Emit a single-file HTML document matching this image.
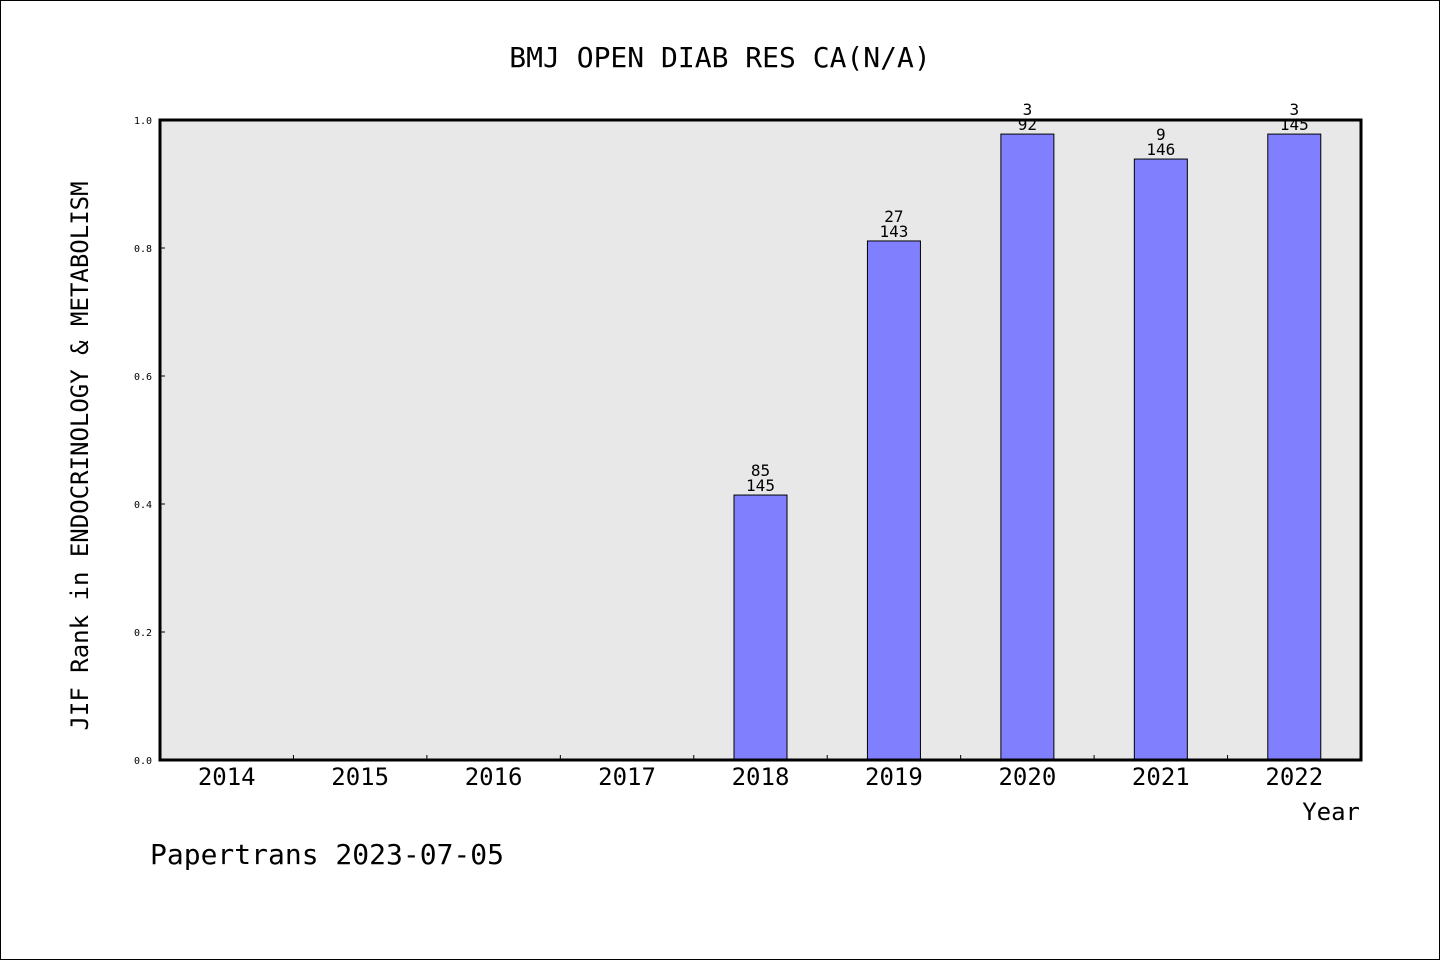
<!DOCTYPE html>
<html><head><meta charset="utf-8">
<style>
html,body{margin:0;padding:0;background:#fff;}
svg{display:block;}
text{font-family:"DejaVu Sans Mono","Liberation Mono",monospace;fill:#000;}
</style></head>
<body>
<svg id="chart" width="1440" height="960" viewBox="0 0 1440 960">
<rect x="0.5" y="0.5" width="1439" height="959" fill="#fff" stroke="#000" stroke-width="1"/>
<text x="720" y="67" font-size="28" text-anchor="middle">BMJ OPEN DIAB RES CA(N/A)</text>
<rect x="160" y="120" width="1201" height="640" fill="#e8e8e8"/>
<g id="bars"></g>
<g id="axes"></g>
<rect x="160" y="120" width="1201" height="640" fill="none" stroke="#000" stroke-width="3"/>
<text transform="translate(88,456) rotate(-90)" font-size="24" text-anchor="middle">JIF Rank in ENDOCRINOLOGY &amp; METABOLISM</text>
<text x="1360" y="820" font-size="24" text-anchor="end">Year</text>
<text x="150" y="864" font-size="28">Papertrans 2023-07-05</text>
</svg>
<script>
const years = ["2014","2015","2016","2017","2018","2019","2020","2021","2022"];
const values = [null,null,null,null,0.414,0.811,0.978,0.939,0.978];
const ranks = [null,null,null,null,"85","27","3","9","3"];
const totals = [null,null,null,null,"145","143","92","146","145"];
const yTicks = [0,0.2,0.4,0.6,0.8,1.0];
const yTickLabels = ["0.0","0.2","0.4","0.6","0.8","1.0"];

const NS="http://www.w3.org/2000/svg";
const X0=160,X1=1361,Y0=760,Y1=120;
const band=(X1-X0)/years.length;
const xc=i=>X0+band*(i+0.5);
const y=v=>Y0-(v-0)/(1-0)*(Y0-Y1);
const barW=53;
function mk(tag,attrs,parent){const e=document.createElementNS(NS,tag);for(const k in attrs)e.setAttribute(k,attrs[k]);parent.appendChild(e);return e;}
const bars=document.getElementById('bars'),axes=document.getElementById('axes');
years.forEach((yr,i)=>{
  if(values[i]!=null){
    const r=mk('rect',{x:xc(i)-barW/2,y:y(values[i]),width:barW,height:Y0-y(values[i]),fill:'#8080ff',stroke:'#000','stroke-width':1},bars);
    
    
    const t1=mk('text',{x:xc(i),y:y(values[i])-19,'font-size':16,'text-anchor':'middle'},bars);
    t1.textContent=ranks[i];
    
    
    const t2=mk('text',{x:xc(i),y:y(values[i])-4,'font-size':16,'text-anchor':'middle'},bars);
    t2.textContent=totals[i];
    
    
  }
  const lb=mk('text',{x:xc(i),y:785,'font-size':24,'text-anchor':'middle'},axes);
  lb.textContent=yr;
  
  
  if(i>0){
    const tk=mk('line',{x1:X0+band*i,x2:X0+band*i,y1:Y0,y2:Y0-5,stroke:'#000','stroke-width':1},axes);
    
    
  }
});
yTicks.forEach((v,i)=>{
  const tk=mk('line',{x1:X0,x2:X0+5,y1:y(v),y2:y(v),stroke:'#000','stroke-width':1},axes);
  
  
  const lb=mk('text',{x:X0-8,y:y(v)+4,'font-size':10,'text-anchor':'end'},axes);
  lb.textContent=yTickLabels[i];
  
  
});
</script>
</body></html>
